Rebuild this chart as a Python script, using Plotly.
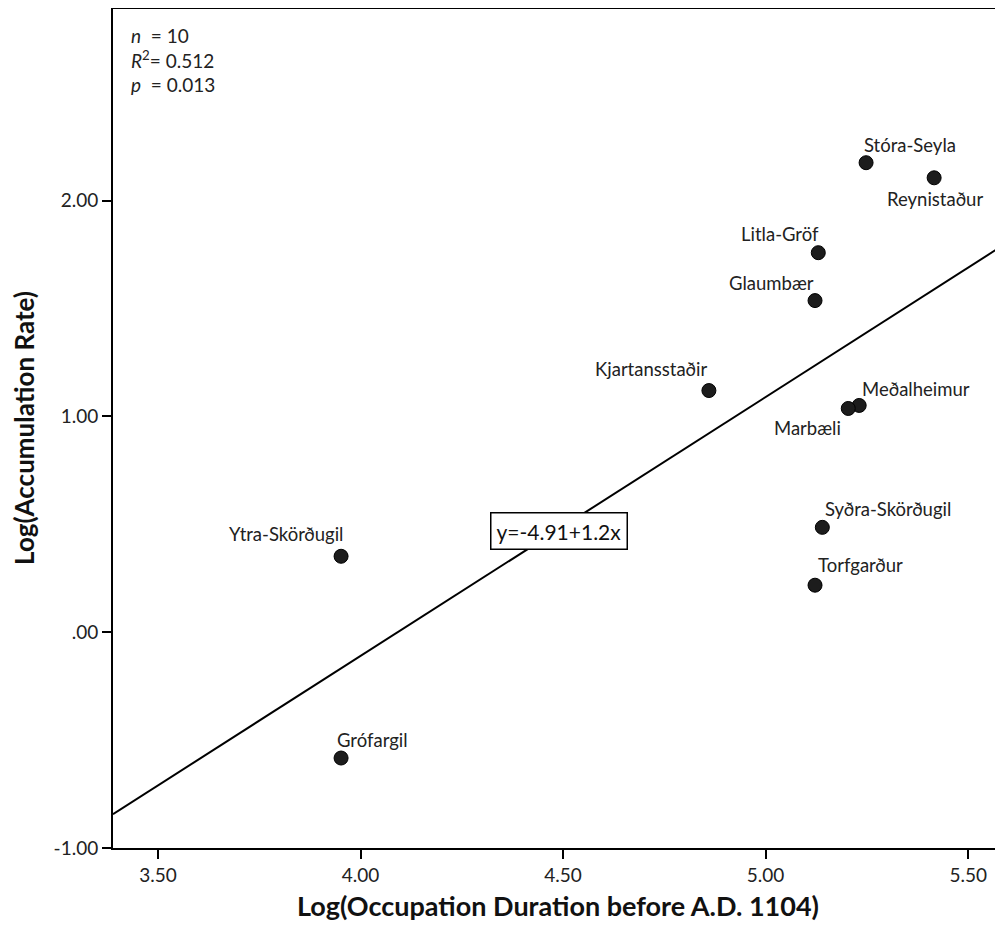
import plotly.graph_objects as go

sites = ["Stóra-Seyla", "Reynistaður", "Litla-Gröf", "Glaumbær", "Kjartansstaðir",
         "Meðalheimur", "Marbæli", "Syðra-Skörðugil", "Torfgarður", "Ytra-Skörðugil", "Grófargil"]
log_duration = [5.248, 5.416, 5.130, 5.122, 4.860, 5.231, 5.204, 5.140, 5.122, 3.952, 3.952]
log_accum = [2.176, 2.106, 1.759, 1.537, 1.120, 1.051, 1.037, 0.486, 0.218, 0.352, -0.583]

intercept = -4.91
slope = 1.2
x_range = [3.389, 5.586]
y_range = [-1.0, 2.893]
x_ticks = [3.5, 4.0, 4.5, 5.0, 5.5]
x_ticklabels = ["3.50", "4.00", "4.50", "5.00", "5.50"]
y_ticks = [-1.0, 0.0, 1.0, 2.0]
y_ticklabels = ["-1.00", ".00", "1.00", "2.00"]

# label placement: (xanchor, xshift, yshift)
label_pos = {
    "Stóra-Seyla": ("left", -4, 18),
    "Reynistaður": ("center", 1, -21),
    "Litla-Gröf": ("right", 3, 19),
    "Glaumbær": ("right", 1, 18),
    "Kjartansstaðir": ("right", 1, 22),
    "Meðalheimur": ("left", 1, 16),
    "Marbæli": ("right", -5, -20),
    "Syðra-Skörðugil": ("left", 1, 18),
    "Torfgarður": ("left", 1, 20),
    "Ytra-Skörðugil": ("right", 5, 22),
    "Grófargil": ("left", -6, 18),
}

FONT = "Lato"
fig = go.Figure()

line_x = x_range
line_y = [intercept + slope * v for v in line_x]
fig.add_trace(go.Scatter(x=line_x, y=line_y, mode="lines",
                         line=dict(color="black", width=2), hoverinfo="skip",
                         showlegend=False, cliponaxis=True))

fig.add_trace(go.Scatter(x=log_duration, y=log_accum, mode="markers",
                         marker=dict(size=14, color="#1c1c1c",
                                     line=dict(color="black", width=1)),
                         showlegend=False, cliponaxis=False))

for name, xv, yv in zip(sites, log_duration, log_accum):
    xa, xs, ys = label_pos[name]
    fig.add_annotation(x=xv, y=yv, text=name, showarrow=False, xanchor=xa,
                       yanchor="middle", xshift=xs, yshift=ys,
                       font=dict(family=FONT, size=18.5, color="#222222"))

fig.add_annotation(x=4.49, y=0.468, text="y=-4.91+1.2x", showarrow=False,
                   font=dict(family=FONT, size=21, color="#111111"),
                   bordercolor="black", borderwidth=1.5, borderpad=5,
                   bgcolor="white")

fig.add_annotation(xref="paper", yref="paper", x=0.0, y=1.0, xanchor="left",
                   yanchor="top", xshift=16, yshift=-14, align="left",
                   showarrow=False,
                   text="<i>n</i>  = 10<br><i>R</i><sup>2</sup>= 0.512<br><i>p</i>  = 0.013",
                   font=dict(family=FONT, size=19, color="#222222"))

fig.update_layout(
    width=995, height=927,
    margin=dict(l=105, r=0, t=0, b=87),
    paper_bgcolor="white", plot_bgcolor="white",
    font=dict(family=FONT, color="#222222"),
    xaxis=dict(range=x_range, tickvals=x_ticks, ticktext=x_ticklabels,
               showgrid=False, zeroline=False, showline=True, linecolor="black",
               linewidth=2, mirror=False, ticks="outside", ticklen=9, tickwidth=2,
               tickcolor="black", tickfont=dict(family=FONT, size=19),
               title=dict(text="<b>Log(Occupation Duration before A.D. 1104)</b>",
                          font=dict(family=FONT, size=27, color="#111111"),
                          standoff=12)),
    yaxis=dict(range=y_range, tickvals=y_ticks, ticktext=y_ticklabels,
               showgrid=False, zeroline=False, showline=True, linecolor="black",
               linewidth=2, ticks="outside", ticklen=9, tickwidth=2,
               tickcolor="black", tickfont=dict(family=FONT, size=19),
               title=dict(text="<b>Log(Accumulation Rate)</b>",
                          font=dict(family=FONT, size=26, color="#111111"),
                          standoff=12)),
)
fig.add_shape(type="line", xref="paper", yref="paper", x0=0, x1=1, y0=1, y1=1,
              line=dict(color="black", width=2))

fig.write_html("out.html")
